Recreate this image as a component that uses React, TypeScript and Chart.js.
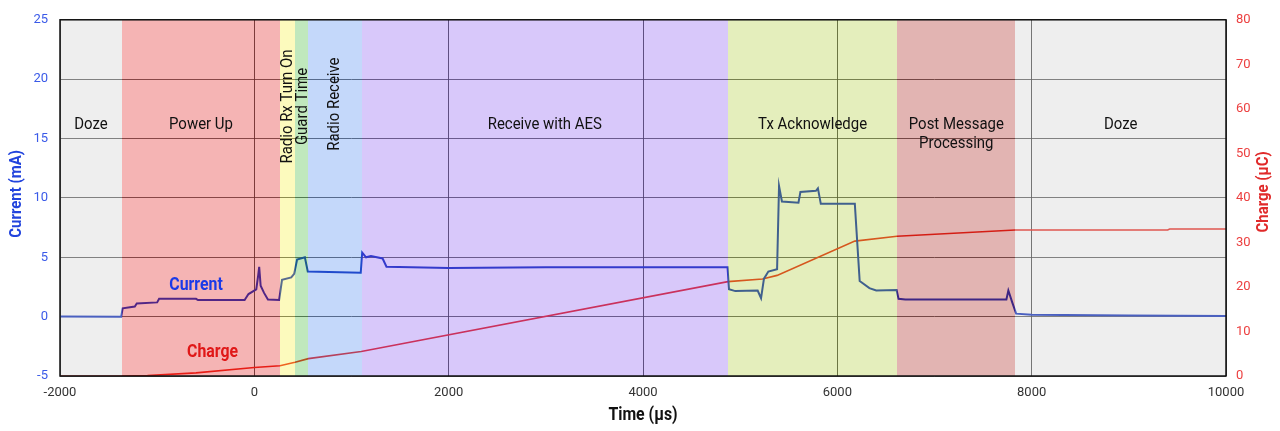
import React, { useEffect, useRef } from 'react';
import { Chart, registerables } from 'chart.js';

Chart.register(...registerables);

// ---- Data ----
const currentT = [-2000, -1370, -1355, -1230, -1210, -1000, -980, -600, -580, -100, -60, 20, 40, 50, 65, 100, 140, 255, 285, 380, 410, 440, 520, 550, 1095, 1110, 1150, 1200, 1320, 1360, 2000, 3000, 4870, 4885, 4950, 5180, 5215, 5245, 5290, 5380, 5400, 5430, 5600, 5620, 5780, 5800, 5830, 6180, 6230, 6330, 6400, 6610, 6630, 6700, 7740, 7760, 7800, 7840, 8000, 9000, 10000];
const currentMA = [0.02, 0.0, 0.7, 0.85, 1.1, 1.2, 1.5, 1.5, 1.4, 1.4, 1.9, 2.3, 3.5, 4.2, 2.6, 2.0, 1.45, 1.4, 3.1, 3.3, 3.6, 4.8, 5.0, 3.8, 3.7, 5.4, 5.0, 5.1, 4.9, 4.2, 4.1, 4.15, 4.15, 2.3, 2.15, 2.2, 1.55, 3.2, 3.8, 4.0, 11.0, 9.7, 9.6, 10.5, 10.6, 10.8, 9.5, 9.5, 3.0, 2.4, 2.2, 2.25, 1.5, 1.45, 1.45, 2.2, 1.2, 0.25, 0.15, 0.1, 0.05];

const chargeT = [-2000, -1360, -1100, -600, 0, 264, 419, 556, 1100, 4874, 5230, 5380, 6180, 6614, 7830, 9400, 9420, 10000];
const chargeUC = [0, 0, 0.1, 0.7, 1.9, 2.3, 3.1, 3.9, 5.5, 21.2, 21.8, 22.6, 30.3, 31.4, 32.8, 32.8, 33.0, 33.0];

const bandStart = [-2000, -1362, 264, 419, 556, 1105, 4874, 6617, 7832];
const bandEnd = [-1362, 264, 419, 556, 1105, 4874, 6617, 7832, 10000];
const bandColors = [
  'rgba(198,198,198,0.3)',
  'rgba(222,8,8,0.3)',
  'rgba(245,238,38,0.3)',
  'rgba(45,178,38,0.3)',
  'rgba(58,125,238,0.3)',
  'rgba(125,72,238,0.3)',
  'rgba(165,198,32,0.3)',
  'rgba(158,5,0,0.3)',
  'rgba(198,198,198,0.3)',
];
const bandLabels = [['Doze'], ['Power Up'], [], [], [], ['Receive with AES'], ['Tx Acknowledge'], ['Post Message', 'Processing'], ['Doze']];
const verticalLabels = [
  { lines: ['Radio Rx Turn On', 'Guard Time'], t: 419 },
  { lines: ['Radio Receive'], t: 830 },
];

const xTicks = [-2000, 0, 2000, 4000, 6000, 8000, 10000];

const FONT = 'Roboto, "Liberation Sans", sans-serif';
const SX = 0.88;

function condensedText(ctx: any, text: string, x: number, y: number) {
  ctx.save();
  ctx.translate(x, y);
  ctx.scale(SX, 1);
  ctx.fillText(text, 0, 0);
  ctx.restore();
}

const overlayPlugin = {
  id: 'overlay',
  afterDatasetsDraw(chart: any) {
    const { ctx, chartArea: a, scales } = chart;
    const x = scales.x;
    const y = scales.y;
    ctx.save();
    ctx.beginPath();
    ctx.rect(a.left, a.top, a.width, a.height);
    ctx.clip();
    bandStart.forEach((s, i) => {
      const x0 = Math.round(x.getPixelForValue(s));
      const x1 = Math.round(x.getPixelForValue(bandEnd[i]));
      ctx.fillStyle = bandColors[i];
      ctx.fillRect(x0, a.top, x1 - x0, a.height);
    });
    ctx.restore();

    ctx.save();
    ctx.strokeStyle = '#111';
    ctx.lineWidth = 1.5;
    ctx.strokeRect(a.left, a.top, a.width, a.height);

    // band labels
    ctx.fillStyle = '#111';
    ctx.font = `17px ${FONT}`;
    ctx.textAlign = 'center';
    ctx.textBaseline = 'middle';
    bandLabels.forEach((lines, i) => {
      const cx = (x.getPixelForValue(bandStart[i]) + x.getPixelForValue(bandEnd[i])) / 2;
      const cy = y.getPixelForValue(16.2);
      lines.forEach((ln, k) => condensedText(ctx, ln, cx, cy + k * 19));
    });
    verticalLabels.forEach((v) => {
      const cx = x.getPixelForValue(v.t);
      const cy = y.getPixelForValue(v.lines.length > 1 ? 17.7 : 17.9);
      ctx.save();
      ctx.translate(cx, cy);
      ctx.rotate(-Math.PI / 2);
      const n = v.lines.length;
      v.lines.forEach((ln, k) => condensedText(ctx, ln, 0, (k - (n - 1) / 2) * 15));
      ctx.restore();
    });

    // series labels
    ctx.font = `bold 18px ${FONT}`;
    ctx.fillStyle = '#1a3ae8';
    condensedText(ctx, 'Current', x.getPixelForValue(-600), y.getPixelForValue(2.6));
    ctx.fillStyle = '#e01818';
    condensedText(ctx, 'Charge', x.getPixelForValue(-430), y.getPixelForValue(-3.0));

    // axis titles
    ctx.font = `bold 17px ${FONT}`;
    ctx.fillStyle = '#2244dd';
    ctx.save();
    ctx.translate(17, (a.top + a.bottom) / 2 - 4);
    ctx.rotate(-Math.PI / 2);
    condensedText(ctx, 'Current (mA)', 0, 0);
    ctx.restore();
    ctx.fillStyle = '#e02a2a';
    ctx.save();
    ctx.translate(1264, (a.top + a.bottom) / 2 - 6);
    ctx.rotate(-Math.PI / 2);
    condensedText(ctx, 'Charge (µC)', 0, 0);
    ctx.restore();
    ctx.fillStyle = '#111';
    ctx.font = `bold 18px ${FONT}`;
    condensedText(ctx, 'Time (µs)', (a.left + a.right) / 2, 415);
    ctx.restore();
  },
};

export default function App() {
  const ref = useRef<HTMLCanvasElement>(null);
  useEffect(() => {
    if (!ref.current) return;
    const chart = new Chart(ref.current, {
      type: 'line',
      data: {
        datasets: [
          {
            label: 'Current',
            data: currentT.map((t, i) => ({ x: t, y: currentMA[i] })),
            yAxisID: 'y',
            borderColor: 'rgb(21,52,189)',
            borderWidth: 2,
            pointRadius: 0,
            tension: 0,
          },
          {
            label: 'Charge',
            data: chargeT.map((t, i) => ({ x: t, y: chargeUC[i] })),
            yAxisID: 'y1',
            borderColor: 'rgb(235,40,30)',
            borderWidth: 1.6,
            pointRadius: 0,
            tension: 0,
          },
        ],
      },
      options: {
        animation: false,
        responsive: false,
        maintainAspectRatio: false,
        layout: { padding: { top: 12, left: 0, right: 0, bottom: 0 } },
        plugins: { legend: { display: false }, tooltip: { enabled: false } },
        scales: {
          x: {
            type: 'linear',
            min: -2000,
            max: 10000,
            afterBuildTicks: (s: any) => {
              s.ticks = xTicks.map((v) => ({ value: v }));
            },
            afterFit: (s: any) => {
              s.height = 55;
            },
            grid: { color: 'rgba(50,50,50,0.85)', lineWidth: 1, drawTicks: false },
            border: { display: false },
            ticks: {
              padding: 9,
              color: '#333',
              font: { family: FONT, size: 13 },
              maxRotation: 0,
              callback: (v: any) => String(v),
            },
          },
          y: {
            position: 'left',
            min: -5,
            max: 25,
            ticks: { stepSize: 5, padding: 12, color: '#3a5ae8', font: { family: FONT, size: 13 }, callback: (v: any) => String(v) },
            afterFit: (s: any) => {
              s.width = 60;
            },
            grid: { color: 'rgba(60,60,60,0.8)', lineWidth: 1, drawTicks: false },
            border: { display: false },
          },
          y1: {
            position: 'right',
            min: 0,
            max: 80,
            ticks: { stepSize: 10, padding: 10, color: '#ec4040', font: { family: FONT, size: 13 }, callback: (v: any) => String(v) },
            afterFit: (s: any) => {
              s.width = 54;
            },
            grid: { display: false, drawTicks: false },
            border: { display: false },
          },
        },
      },
      plugins: [overlayPlugin],
    });
    return () => chart.destroy();
  }, []);
  return (
    <div style={{ position: 'fixed', left: 0, top: 0, width: 1280, height: 431 }}>
      <canvas ref={ref} width={1280} height={431} style={{ width: 1280, height: 431 }} />
    </div>
  );
}
